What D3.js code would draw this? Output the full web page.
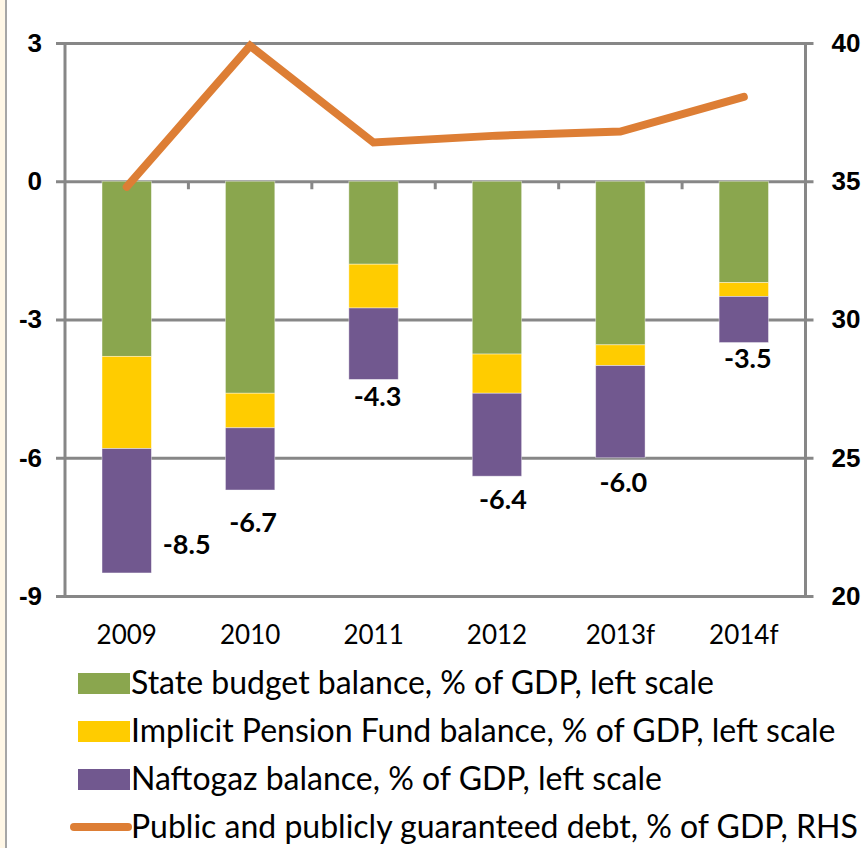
<!DOCTYPE html>
<html>
<head>
<meta charset="utf-8">
<script src="https://cdn.jsdelivr.net/npm/d3@7"></script>
<style>
  body { margin: 0; background: #fff; }
  svg { display: block; font-family: Lato, "Open Sans", sans-serif; }
</style>
</head>
<body>
<div id="chart"></div>
<script>
// data
var years = ["2009", "2010", "2011", "2012", "2013f", "2014f"];
var stateBudget = [-3.8, -4.6, -1.8, -3.75, -3.55, -2.2];
var pensionFund = [-2.0, -0.75, -0.95, -0.85, -0.45, -0.3];
var naftogaz = [-2.7, -1.35, -1.55, -1.8, -2.0, -1.0];
var totals = [-8.5, -6.7, -4.3, -6.4, -6.0, -3.5];
var publicDebt = [34.8, 39.9, 36.4, 36.65, 36.8, 38.05];
var leftTicks = [3, 0, -3, -6, -9];
var rightTicks = [40, 35, 30, 25, 20];
var seriesNames = [
  "State budget balance, % of GDP, left scale",
  "Implicit Pension Fund balance, % of GDP, left scale",
  "Naftogaz balance, % of GDP, left scale",
  "Public and publicly guaranteed debt, % of GDP, RHS"
];

// layout (label nudges are hand placed, like the original)
var labelNudge = [[60, -28], [3, 33], [4, 17], [6, 23], [3, 25], [4, 16]];
var colors = ["#8AA64E", "#FFCC00", "#71588F", "#DD7E35"];
var gridColor = "#878787";

var W = 864, H = 848;
var m = { left: 65, right: 58.5, top: 43, bottom: 252 };

var svg = d3.select("#chart").append("svg")
  .attr("width", W).attr("height", H);

// left frame strip
svg.append("rect").attr("x", 0).attr("y", 0).attr("width", 5).attr("height", H).attr("fill", "#FFF7E6");
svg.append("rect").attr("x", 5).attr("y", 0).attr("width", 2).attr("height", H).attr("fill", "#A6A6A6");

var x = d3.scaleBand().domain(years)
  .range([m.left, W - m.right]).paddingInner(0.6).paddingOuter(0.3);
var xc = d3.scaleBand().domain(years).range([m.left, W - m.right]);
var y = d3.scaleLinear().domain([-9, 3]).range([H - m.bottom, m.top]);
var y2 = d3.scaleLinear().domain([20, 40]).range([H - m.bottom, m.top]);
var plain = function (d) { return String(d); };

// gridlines via left axis
var gLeft = svg.append("g").attr("transform", "translate(" + m.left + ",0)")
  .call(d3.axisLeft(y).tickValues(leftTicks).tickFormat(plain).tickSize(9).tickPadding(14));
gLeft.select(".domain").remove();
gLeft.selectAll(".tick line").attr("stroke", gridColor).attr("stroke-width", 3);
gLeft.selectAll(".tick").append("line")
  .attr("x1", 0).attr("x2", W - m.right - m.left + 8)
  .attr("stroke", gridColor).attr("stroke-width", 3);
gLeft.selectAll(".tick text")
  .attr("fill", "#000").attr("font-size", 26).attr("font-weight", "bold");

var gRight = svg.append("g").attr("transform", "translate(" + (W - m.right) + ",0)")
  .call(d3.axisRight(y2).tickValues(rightTicks).tickFormat(plain).tickSize(0).tickPadding(26));
gRight.select(".domain").remove();
gRight.selectAll(".tick text")
  .attr("fill", "#000").attr("font-size", 26).attr("font-weight", "bold");

// vertical axis lines
svg.append("line").attr("x1", m.left).attr("x2", m.left)
  .attr("y1", y(3)).attr("y2", y(-9)).attr("stroke", gridColor).attr("stroke-width", 3);
svg.append("line").attr("x1", W - m.right).attr("x2", W - m.right)
  .attr("y1", y(3)).attr("y2", y(-9)).attr("stroke", gridColor).attr("stroke-width", 3);

// category ticks on the zero line
var gX = svg.append("g").attr("transform", "translate(0," + y(0) + ")");
gX.selectAll(".cat-tick").data(d3.range(1, years.length)).enter().append("line")
  .attr("x1", function (i) { return m.left + i * xc.step(); })
  .attr("x2", function (i) { return m.left + i * xc.step(); })
  .attr("y1", 0).attr("y2", 8)
  .attr("stroke", gridColor).attr("stroke-width", 3);

// category labels at bottom
svg.append("g").attr("transform", "translate(0," + y(-9) + ")")
  .call(d3.axisBottom(xc).tickSize(0).tickPadding(30))
  .call(function (g) { g.select(".domain").remove(); })
  .selectAll("text").attr("fill", "#000").attr("font-size", 26)
  .attr("font-family", "Lato, sans-serif");

// stacked bars
var rows = years.map(function (yr, i) {
  return { year: yr, s: -stateBudget[i], p: -pensionFund[i], n: -naftogaz[i] };
});
var stack = d3.stack().keys(["s", "p", "n"])(rows);
svg.append("g").selectAll("g").data(stack).enter().append("g")
  .attr("fill", function (d, i) { return colors[i]; })
  .selectAll("rect").data(function (d) { return d; }).enter().append("rect")
  .attr("x", function (d) { return x(d.data.year); })
  .attr("width", x.bandwidth())
  .attr("y", function (d) { return y(-d[0]); })
  .attr("height", function (d) { return y(-d[1]) - y(-d[0]); })
  .attr("stroke", "rgba(255,255,255,0.5)").attr("stroke-width", 0.8);

// total labels
svg.append("g").selectAll("text").data(totals).enter().append("text")
  .attr("x", function (d, i) { return xc(years[i]) + xc.bandwidth() / 2 + labelNudge[i][0]; })
  .attr("y", function (d, i) { return y(d) + labelNudge[i][1]; })
  .attr("dy", "0.35em")
  .attr("text-anchor", "middle")
  .attr("font-size", 27).attr("font-weight", "bold")
  .text(function (d) { return d.toFixed(1); });

// debt line
var line = d3.line()
  .x(function (d, i) { return xc(years[i]) + xc.bandwidth() / 2; })
  .y(function (d) { return y2(d); });
svg.append("path").datum(publicDebt)
  .attr("d", line).attr("fill", "none")
  .attr("stroke", colors[3]).attr("stroke-width", 8)
  .attr("stroke-linecap", "round").attr("stroke-linejoin", "miter");

// legend
var leg = svg.append("g").attr("transform", "translate(78,683)");
var item = leg.selectAll("g").data(seriesNames).enter().append("g")
  .attr("transform", function (d, i) { return "translate(0," + i * 48 + ")"; });
item.filter(function (d, i) { return i < 3; }).append("rect")
  .attr("x", 0).attr("y", -10).attr("width", 52).attr("height", 21)
  .attr("fill", function (d, i) { return colors[i]; });
item.filter(function (d, i) { return i === 3; }).append("line")
  .attr("x1", -4).attr("x2", 50).attr("y1", 0).attr("y2", 0)
  .attr("stroke", colors[3]).attr("stroke-width", 8).attr("stroke-linecap", "round");
item.append("text")
  .attr("x", 53).attr("dy", "0.35em")
  .attr("font-size", 32).attr("fill", "#000")
  .text(function (d) { return d; });
</script>
</body>
</html>
